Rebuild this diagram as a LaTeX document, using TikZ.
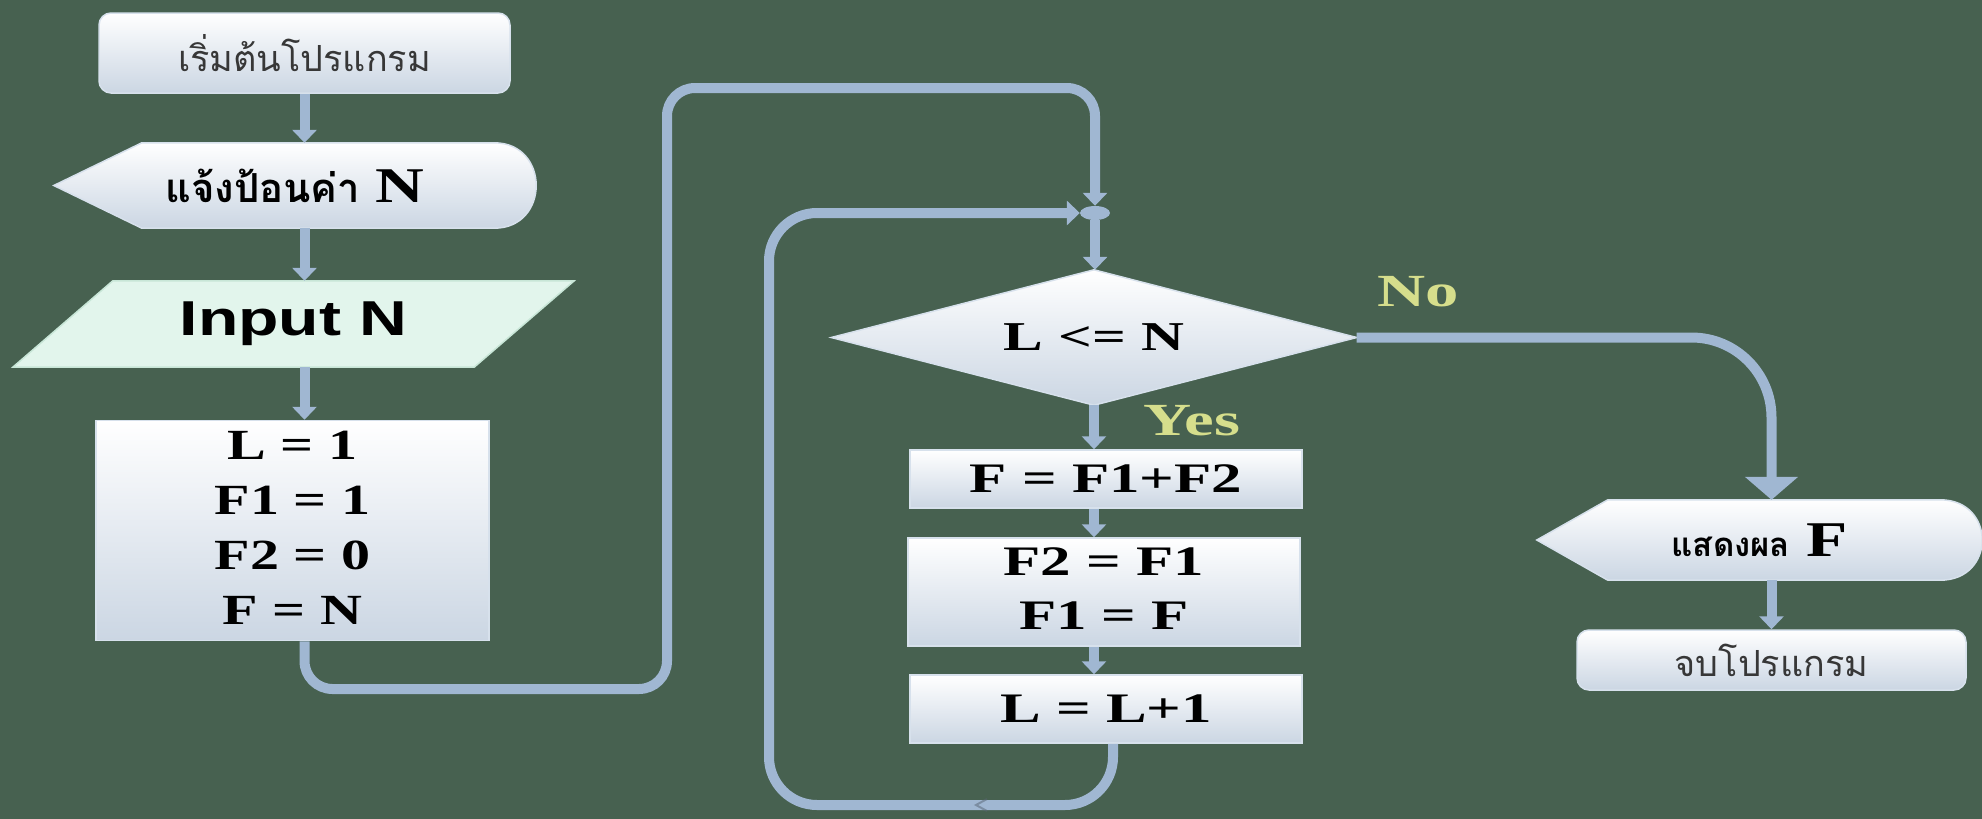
\documentclass[tikz,border=0pt]{standalone}
\usepackage{fontspec}
\usepackage{graphicx}
\setmainfont{Liberation Serif}
\newfontfamily\thai[Script=Thai]{Loma}
\newfontfamily\arialf{Liberation Sans}
\usetikzlibrary{calc,arrows.meta,shapes.geometric}

\definecolor{bg}{RGB}{71,97,80}
\definecolor{conn}{RGB}{160,183,210}
\definecolor{boxbot}{RGB}{203,214,227}
\definecolor{boxline}{RGB}{215,225,236}
\definecolor{mint}{RGB}{226,245,236}
\definecolor{mintline}{RGB}{200,230,215}
\definecolor{lbl}{RGB}{214,222,140}
\definecolor{thaigray}{RGB}{55,55,55}

% horizontally widened text
\newcommand\wide[1]{\scalebox{1.35}[1]{#1}}
\newcommand\wider[1]{\scalebox{1.45}[1]{#1}}

\begin{document}
\begin{tikzpicture}[x=1pt,y=-1pt,
  shadefill/.style={draw=boxline, line width=1.5pt, top color=white, bottom color=boxbot},
  termbox/.style={shadefill, rounded corners=12pt, inner sep=0pt, text=thaigray,
    font=\thai\fontsize{36}{40}\selectfont},
  procbox/.style={shadefill, inner sep=0pt, font=\fontsize{43}{55}\selectfont\bfseries},
  stepbox/.style={procbox, font=\fontsize{42}{54}\selectfont\bfseries, minimum width=392},
  holder/.style={draw=none, inner sep=0pt},
  conn/.style={draw=conn, line width=10pt},
  arr/.style={-{Triangle[width=24pt,length=13pt]}},
  arrbig/.style={-{Triangle[width=52pt,length=23pt]}},
  lbl/.style={text=lbl, font=\fontsize{46}{50}\selectfont\bfseries, inner sep=0pt},
]
\useasboundingbox (0,0) rectangle (1982,819);
\fill[bg] (0,0) rectangle (1982,819);

% ---- left column ----
\node[termbox, minimum width=411, minimum height=80] (start) at (304.5,53) {เริ่มต้นโปรแกรม};

\node[holder, minimum width=482, minimum height=85] (in1) at (295,185.5) {};
\path[shadefill] (in1.west) -- ($(in1.north west)+(88,0)$) -- ($(in1.north east)+(-42,0)$)
  .. controls +(56,0) and +(56,0) .. ($(in1.south east)+(-42,0)$)
  -- ($(in1.south west)+(88,0)$) -- cycle;
\node at (in1.center) {{\thai\bfseries\fontsize{40}{44}\selectfont แจ้งป้อนค่า}\hspace{16pt}%
  {\fontsize{50}{54}\selectfont\bfseries\wide{N}}};

\node[holder, minimum width=561, minimum height=86] (inp) at (293.5,324) {};
\path[draw=mintline, line width=1.5pt, fill=mint] ($(inp.north west)+(100,0)$) -- (inp.north east)
  -- ($(inp.south east)+(-100,0)$) -- (inp.south west) -- cycle;
\node[font=\arialf\bfseries\fontsize{49}{55}\selectfont] at (inp.center) {\wide{Input N}};

\node[procbox, minimum width=393, minimum height=215] (init) at (292.5,530.5)
  {\wide{\begin{tabular}{@{}c@{}}L = 1\\F1 = 1\\F2 = 0\\F = N\end{tabular}}};

% ---- loop column ----
\node[ellipse, fill=conn, draw=none, inner sep=0pt, minimum width=30, minimum height=14] (merge) at (1095,213) {};

\node[holder, minimum width=525, minimum height=135] (dia) at (1094,337.5) {};
\path[shadefill] (dia.north) -- (dia.east) -- (dia.south) -- (dia.west) -- cycle;
\node[font=\fontsize{41}{44}\selectfont\bfseries] at (dia.center) {\wider{L <= N}};

\node[stepbox, minimum height=58] (b1) at (1106,479) {\wider{F = F1+F2}};
\node[stepbox, minimum height=101] (b2) at (1104,592)
  {\wider{\begin{tabular}{@{}c@{}}F2 = F1\\F1 = F\end{tabular}}};
\node[stepbox, minimum height=68] (b3) at (1106,709) {\wider{L = L+1}};

% ---- output column ----
\node[holder, minimum width=445, minimum height=80] (out) at (1759.5,540) {};
\path[shadefill] (out.west) -- ($(out.north west)+(71,0)$) -- ($(out.north east)+(-42,0)$)
  .. controls +(56,0) and +(56,0) .. ($(out.south east)+(-42,0)$)
  -- ($(out.south west)+(71,0)$) -- cycle;
\node at (out.center) {{\thai\bfseries\fontsize{33}{40}\selectfont แสดงผล}\hspace{16pt}%
  {\fontsize{50}{54}\selectfont\bfseries\wide{F}}};

\node[termbox, minimum width=389, minimum height=60] (end) at (1771.5,660) {จบโปรแกรม};

% ---- labels ----
\node[lbl] (yes) at (1192,421) {\wider{Yes}};
\node[lbl] (no) at (1418,292) {\wider{No}};

% ---- connectors ----
\coordinate (r1) at (667,689);
\coordinate (r2) at (667,88);
\coordinate (r3) at (769,805);

\draw[conn, arr] (start.south) -- (start.south |- in1.north);
\draw[conn, arr] (in1.south -| start.south) -- (inp.north -| start.south);
\draw[conn, arr] (inp.south -| start.south) -- (init.north -| start.south);
\draw[conn, arr, rounded corners=28pt] (init.south -| start.south) |- (r1) -- (r2) -| (merge.north);
\draw[conn, arr, rounded corners=48pt] ($(b3.south)+(7,0)$) |- (r3) |- (merge.west);
\draw[conn, arr] (merge.south) -- (merge.south |- dia.north);
\draw[conn, arr] (dia.south) -- (dia.south |- b1.north);
\draw[conn, arr] (b1.south -| dia.south) -- (b2.north -| dia.south);
\draw[conn, arr] (b2.south -| dia.south) -- (b3.north -| dia.south);
\draw[conn, arrbig, rounded corners=80pt] (dia.east) -| (end.north |- out.north);
\draw[conn, arr] (out.south -| end.north) -- (end.north);

% small direction mark on the lower return line
\draw[line width=2pt, draw=conn!55!black, opacity=.5] (987,799) -- (976,805) -- (987,811);
\end{tikzpicture}
\end{document}
